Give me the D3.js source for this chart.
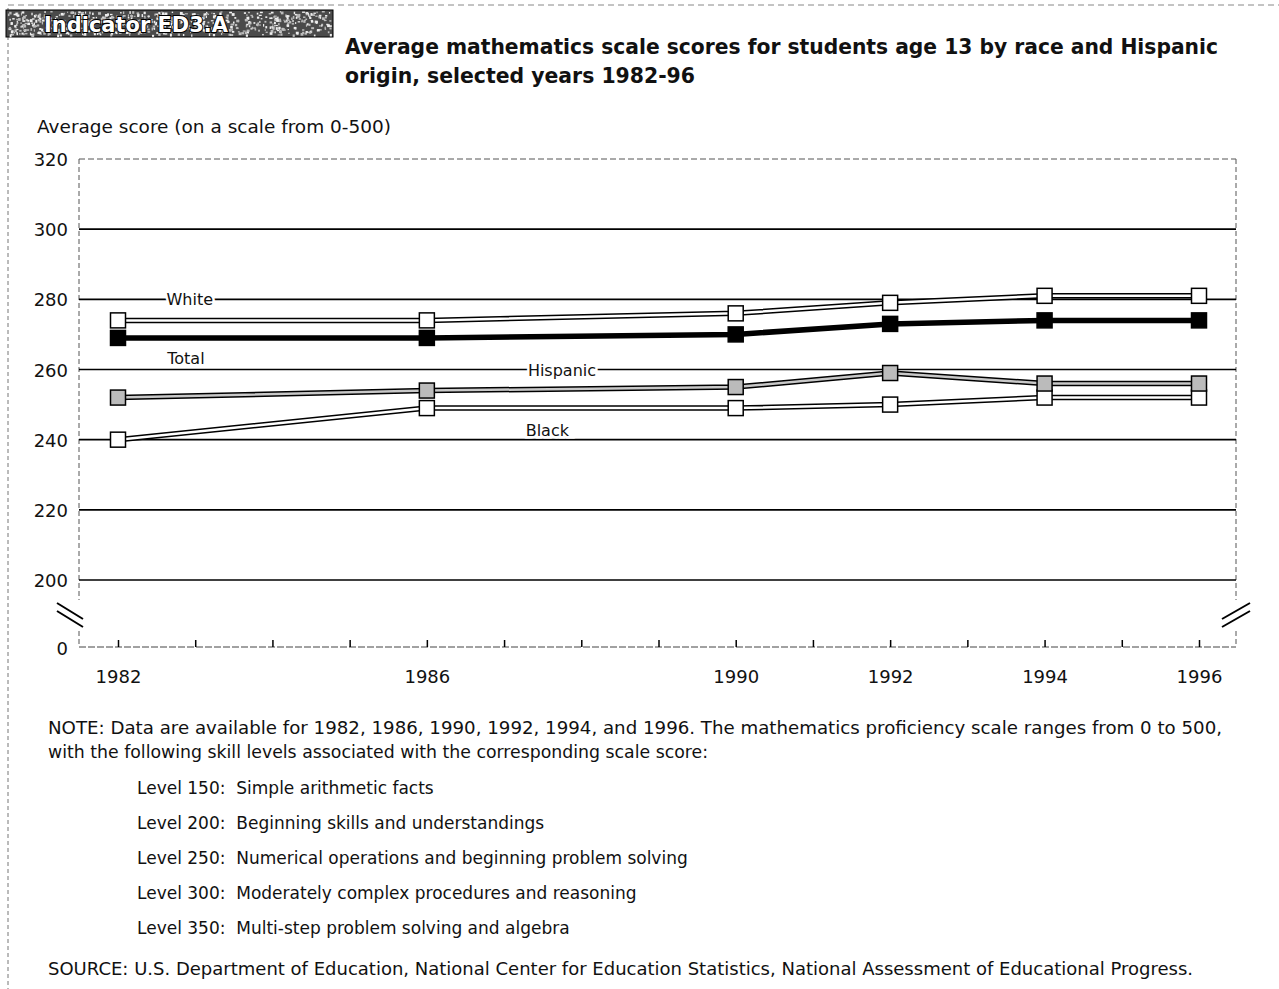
<!DOCTYPE html>
<html>
<head>
<meta charset="utf-8">
<script src="https://cdn.jsdelivr.net/npm/d3@7"></script>
<style>
  body { margin: 0; background: #fff; }
  svg text { font-family: "DejaVu Sans", sans-serif; fill: #111; white-space: pre; }
</style>
</head>
<body>
<script>
// data
var years = [1982, 1986, 1990, 1992, 1994, 1996];
var white    = [274, 274, 276, 279, 281, 281];
var total    = [269, 269, 270, 273, 274, 274];
var hispanic = [252, 254, 255, 259, 256, 256];
var black    = [240, 249, 249, 250, 252, 252];
var yTicks = [200, 220, 240, 260, 280, 300, 320];

var noteLines = [
  "NOTE: Data are available for 1982, 1986, 1990, 1992, 1994, and 1996. The mathematics proficiency scale ranges from 0 to 500,",
  "with the following skill levels associated with the corresponding scale score:"
];
var noteWidths = [1174, 660];
var levels = [
  "Level 150:  Simple arithmetic facts",
  "Level 200:  Beginning skills and understandings",
  "Level 250:  Numerical operations and beginning problem solving",
  "Level 300:  Moderately complex procedures and reasoning",
  "Level 350:  Multi-step problem solving and algebra"
];
var source = "SOURCE: U.S. Department of Education, National Center for Education Statistics, National Assessment of Educational Progress.";

var W = 1279, H = 989;
var plotL = 79, plotR = 1236, plotT = 159, baseY = 647;

var svg = d3.select("body").append("svg")
    .attr("width", W)
    .attr("height", H);

// page frame (dashed scan edges)
svg.append("line").attr("x1", 8).attr("x2", 8).attr("y1", 8).attr("y2", H)
    .attr("stroke", "#777").attr("stroke-dasharray", "4,3").attr("stroke-width", 1);
svg.append("line").attr("x1", 8).attr("x2", W).attr("y1", 5).attr("y2", 5)
    .attr("stroke", "#888").attr("stroke-dasharray", "6,4").attr("stroke-width", 1);

// header badge
var badge = svg.append("g");
badge.append("rect").attr("x", 6).attr("y", 10).attr("width", 327).attr("height", 27)
    .attr("fill", "#4a4a4a").attr("stroke", "#000");
// speckle texture
var rnd = d3.randomLcg(7);
for (var i = 0; i < 700; i++) {
  badge.append("rect")
      .attr("x", 7 + rnd() * 323).attr("y", 11 + rnd() * 24)
      .attr("width", 1 + rnd() * 2).attr("height", 1 + rnd() * 2)
      .attr("fill", rnd() > 0.5 ? "#bbb" : "#eee");
}
badge.append("text").attr("x", 44).attr("y", 32)
    .style("font-size", "22px").style("font-weight", "bold")
    .style("fill", "#fff").attr("stroke", "#000").attr("stroke-width", 2)
    .attr("paint-order", "stroke")
    .attr("textLength", 184).attr("lengthAdjust", "spacingAndGlyphs")
    .text("Indicator ED3.A");

// title
svg.append("text").attr("x", 345).attr("y", 54)
    .style("font-size", "21px").style("font-weight", "bold")
    .attr("textLength", 873).attr("lengthAdjust", "spacingAndGlyphs")
    .text("Average mathematics scale scores for students age 13 by race and Hispanic");
svg.append("text").attr("x", 345).attr("y", 83)
    .style("font-size", "21px").style("font-weight", "bold")
    .attr("textLength", 350).attr("lengthAdjust", "spacingAndGlyphs")
    .text("origin, selected years 1982-96");

svg.append("text").attr("x", 37).attr("y", 133)
    .style("font-size", "17px")
    .attr("textLength", 354).attr("lengthAdjust", "spacingAndGlyphs")
    .text("Average score (on a scale from 0-500)");

// scales
var x = d3.scaleLinear().domain([1982, 1996]).range([118, 1199]);
var y = d3.scaleLinear().domain([200, 320]).range([580, plotT]);

// frame of plot
svg.append("line").attr("x1", plotL).attr("x2", plotL).attr("y1", plotT).attr("y2", baseY)
    .attr("stroke", "#555").attr("stroke-dasharray", "5,3");
svg.append("line").attr("x1", plotR).attr("x2", plotR).attr("y1", plotT).attr("y2", baseY)
    .attr("stroke", "#555").attr("stroke-dasharray", "5,3");
svg.append("line").attr("x1", plotL).attr("x2", plotR).attr("y1", y(320)).attr("y2", y(320))
    .attr("stroke", "#555").attr("stroke-dasharray", "6,3");

// gridlines
svg.selectAll(".grid").data(yTicks.filter(function(d) { return d < 320; }))
  .enter().append("line")
    .attr("class", "grid")
    .attr("x1", plotL).attr("x2", plotR)
    .attr("y1", function(d) { return y(d); })
    .attr("y2", function(d) { return y(d); })
    .attr("stroke", "#000").attr("stroke-width", 1.6);

// y tick labels
svg.selectAll(".ylab").data(yTicks)
  .enter().append("text")
    .attr("x", 68).attr("y", function(d) { return y(d) + 7; })
    .attr("text-anchor", "end").style("font-size", "18px")
    .text(function(d) { return d; });
svg.append("text").attr("x", 68).attr("y", baseY + 8)
    .attr("text-anchor", "end").style("font-size", "18px").text("0");

// baseline and x ticks
svg.append("line").attr("x1", plotL).attr("x2", plotR).attr("y1", baseY).attr("y2", baseY)
    .attr("stroke", "#444").attr("stroke-dasharray", "7,2");
var xAxis = d3.axisBottom(x)
    .tickValues(d3.range(1982, 1997))
    .tickSize(-7)
    .tickFormat(function(d) { return years.indexOf(d) >= 0 ? d : ""; });
var gx = svg.append("g").attr("transform", "translate(0," + baseY + ")").call(xAxis);
gx.select(".domain").remove();
gx.selectAll(".tick line").attr("stroke", "#000").attr("stroke-width", 1.5);
gx.selectAll(".tick text").attr("y", 23)
    .style("font-size", "18px").style("font-family", "'DejaVu Sans', sans-serif").attr("fill", "#111");

// axis break marks
svg.append("rect").attr("x", 74).attr("y", 600).attr("width", 10).attr("height", 28).attr("fill", "#fff");
[-4, 4].forEach(function(o) {
  svg.append("line")
      .attr("x1", 57).attr("y1", 607 + o)
      .attr("x2", 83).attr("y2", 623 + o)
      .attr("stroke", "#000").attr("stroke-width", 2);
});
svg.append("rect").attr("x", 1230).attr("y", 600).attr("width", 12).attr("height", 28).attr("fill", "#fff");
[-4, 4].forEach(function(o) {
  svg.append("line")
      .attr("x1", 1222).attr("y1", 623 + o)
      .attr("x2", 1250).attr("y2", 607 + o)
      .attr("stroke", "#000").attr("stroke-width", 2);
});

// series lines
var line = d3.line()
    .x(function(d, i) { return x(years[i]); })
    .y(function(d) { return y(d); });

var series = [
  { vals: black,    inner: "#fff",  fill: "#fff" },
  { vals: hispanic, inner: "#c8c8c8", fill: "#bbb" },
  { vals: white,    inner: "#fff",  fill: "#fff" },
  { vals: total,    inner: null,    fill: "#000" }
];

series.forEach(function(s) {
  svg.append("path").attr("d", line(s.vals))
      .attr("fill", "none").attr("stroke", "#000").attr("stroke-width", 5.5);
  if (s.inner) {
    svg.append("path").attr("d", line(s.vals))
        .attr("fill", "none").attr("stroke", s.inner).attr("stroke-width", 2.5);
  }
  svg.selectAll(null).data(s.vals).enter().append("rect")
      .attr("x", function(d, i) { return x(years[i]) - 7.5; })
      .attr("y", function(d) { return y(d) - 7.5; })
      .attr("width", 15).attr("height", 15)
      .attr("fill", s.fill).attr("stroke", "#000").attr("stroke-width", 1.5);
});

// series labels
var labels = [
  { t: "White", yr: 1982.93, v: 280 },
  { t: "Total", yr: 1982.88, v: 263.3 },
  { t: "Hispanic", yr: 1987.75, v: 260 },
  { t: "Black", yr: 1987.56, v: 242.8 }
];
svg.selectAll(".slab").data(labels).enter().append("text")
    .attr("x", function(d) { return x(d.yr); })
    .attr("y", function(d) { return y(d.v) + 6; })
    .attr("text-anchor", "middle")
    .style("font-size", "16px")
    .attr("stroke", "#fff").attr("stroke-width", 5).attr("paint-order", "stroke")
    .text(function(d) { return d.t; });

// notes
noteLines.forEach(function(t, i) {
  svg.append("text").attr("x", 48).attr("y", 734 + i * 24)
      .style("font-size", "17px")
      .attr("textLength", noteWidths[i]).attr("lengthAdjust", "spacingAndGlyphs")
      .text(t);
});
levels.forEach(function(t, i) {
  svg.append("text").attr("x", 137).attr("y", 794 + i * 35)
      .style("font-size", "17px").text(t);
});
svg.append("text").attr("x", 48).attr("y", 975)
    .style("font-size", "17px")
    .attr("textLength", 1145).attr("lengthAdjust", "spacingAndGlyphs")
    .text(source);
</script>
</body>
</html>
